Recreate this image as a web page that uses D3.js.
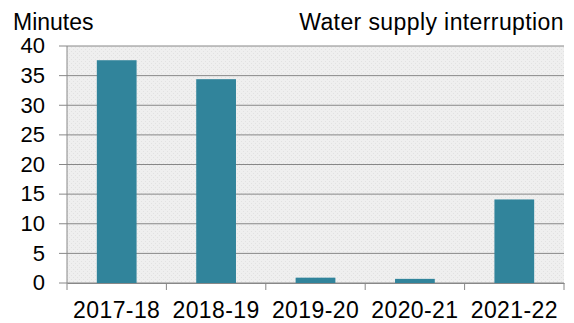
<!DOCTYPE html>
<html>
<head>
<meta charset="utf-8">
<script src="https://cdn.jsdelivr.net/npm/d3@7"></script>
<style>
  body { margin: 0; background: #fff; }
  text { font-family: "Liberation Sans", Arial, sans-serif; fill: #000; }
</style>
</head>
<body>
<svg id="chart" width="574" height="323"></svg>
<script>
'use strict'

const years = ['2017-18', '2018-19', '2019-20', '2020-21', '2021-22']
const minutes = [37.6, 34.4, 0.9, 0.7, 14.1]
const yTicks = [0, 5, 10, 15, 20, 25, 30, 35, 40]

const svg = d3.select('#chart')
const plotLeft = 67, plotRight = 564, plotTop = 46, plotBottom = 283

const x = d3.scaleBand().domain(years).range([plotLeft, plotRight]).paddingInner(0.6).paddingOuter(0.3)
const y = d3.scaleLinear().domain([0, 40]).range([plotBottom, plotTop])

// plot background, textured grey in the original
const defs = svg.append('defs')
const pat = defs.append('pattern').attr('id', 'dots')
    .attr('width', 4).attr('height', 4).attr('patternUnits', 'userSpaceOnUse')
pat.append('rect').attr('width', 4).attr('height', 4).attr('fill', '#efefef')
pat.append('rect').attr('x', 1).attr('y', 1).attr('width', 1).attr('height', 1).attr('fill', '#e2e2e2')
pat.append('rect').attr('x', 3).attr('y', 3).attr('width', 1).attr('height', 1).attr('fill', '#e2e2e2')

svg.append('rect')
    .attr('x', plotLeft).attr('y', plotTop)
    .attr('width', plotRight - plotLeft).attr('height', plotBottom - plotTop)
    .attr('fill', 'url(#dots)')

// gridlines
svg.append('g').selectAll('line')
    .data(yTicks)
    .join('line')
    .attr('x1', plotLeft - 8).attr('x2', plotRight)
    .attr('y1', d => y(d)).attr('y2', d => y(d))
    .attr('stroke', '#888').attr('stroke-width', 1)

// y axis line
svg.append('line')
    .attr('x1', plotLeft).attr('x2', plotLeft)
    .attr('y1', plotTop).attr('y2', plotBottom)
    .attr('stroke', '#888')

svg.append('g').selectAll('text')
    .data(yTicks)
    .join('text')
    .attr('x', 45).attr('y', d => y(d))
    .attr('dy', '0.33em')
    .attr('text-anchor', 'end')
    .attr('font-size', 22)
    .text(d => d)

// bars
svg.append('g').selectAll('rect')
    .data(minutes)
    .join('rect')
    .attr('x', (d, i) => x(years[i]))
    .attr('width', x.bandwidth())
    .attr('y', d => y(d))
    .attr('height', d => y(0) - y(d))
    .attr('fill', '#31849b')

// x axis
const xAxis = svg.append('g').attr('transform', `translate(0,${plotBottom})`)
    .call(d3.axisBottom(x).tickSize(0).tickPadding(19))
xAxis.select('.domain').attr('stroke', '#888')
xAxis.selectAll('text').attr('font-size', 23).attr('font-family', '"Liberation Sans", Arial, sans-serif')
    .attr('fill', '#000').attr('letter-spacing', 0.4)

svg.append('g').selectAll('line')
    .data(d3.range(years.length + 1))
    .join('line')
    .attr('x1', i => plotLeft + i * (plotRight - plotLeft) / years.length)
    .attr('x2', i => plotLeft + i * (plotRight - plotLeft) / years.length)
    .attr('y1', plotBottom).attr('y2', plotBottom + 7)
    .attr('stroke', '#888')

svg.append('text').attr('x', 13).attr('y', 30).attr('font-size', 23).text('Minutes')
svg.append('text').attr('x', 564).attr('y', 30).attr('font-size', 23)
    .attr('letter-spacing', 0.4)
    .attr('text-anchor', 'end').text('Water supply interruption')
</script>
</body>
</html>
